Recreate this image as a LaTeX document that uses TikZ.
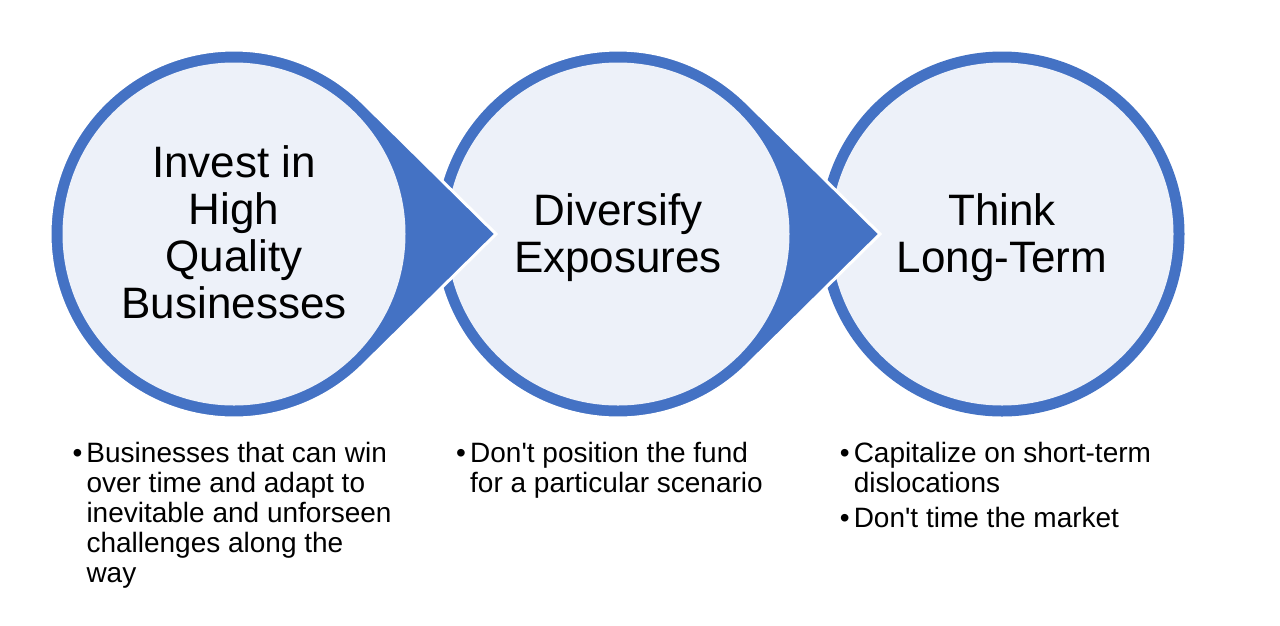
\documentclass[tikz,border=0pt]{standalone}
\usepackage{fontspec}
\setmainfont{Liberation Sans}[Ligatures=TeXOff]
\definecolor{ringblue}{HTML}{4472C4}
\definecolor{ringfill}{HTML}{EDF1F9}
\tikzset{
  teardrop/.style={fill=ringblue, draw=white, line width=3pt, line join=miter},
  ringdisc/.style={fill=ringblue},
  innerdisc/.style={fill=ringfill},
  titletext/.style={anchor=base, inner sep=0pt, font=\fontsize{44}{47}\selectfont},
  bullettext/.style={anchor=base west, inner sep=0pt, font=\fontsize{28}{30}\selectfont},
}
\newcommand{\bul}{\makebox[14pt][l]{•}}
\begin{document}
\begin{tikzpicture}[x=1pt,y=-1pt]
\useasboundingbox[fill=white] (0,0) rectangle (1280,625);
\coordinate (c1) at (234,234);
\coordinate (c2) at (618,234);
\coordinate (c3) at (1002,234);
\coordinate (p1) at (496,234);
\coordinate (p2) at (880,234);
% third circle
\fill[ringdisc] (c3) circle[radius=182.5];
\fill[innerdisc] (c3) circle[radius=171.5];
% second circle with arrow
\path[teardrop] (c2) ++(45.4:184) arc[start angle=45.4, end angle=314.6, radius=184] -- (p2) -- cycle;
\fill[innerdisc] (c2) circle[radius=171.5];
% first circle with arrow
\path[teardrop] (c1) ++(45.4:184) arc[start angle=45.4, end angle=314.6, radius=184] -- (p1) -- cycle;
\fill[innerdisc] (c1) circle[radius=171.5];
% titles
\node[titletext] (t1) at (234,177) {\begin{tabular}[t]{@{}c@{}}Invest in\\High\\Quality\\Businesses\end{tabular}};
\node[titletext] (t2) at (618,225) {\begin{tabular}[t]{@{}c@{}}Diversify\\Exposures\end{tabular}};
\node[titletext] (t3) at (1002,225) {\begin{tabular}[t]{@{}c@{}}Think\\Long-Term\end{tabular}};
% bullets
\node[bullettext] (b1) at (72.3,462) {\begin{tabular}[t]{@{}l@{}l@{}}\bul & Businesses that can win\\ & over time and adapt to\\ & inevitable and unforseen\\ & challenges along the\\ & way\end{tabular}};
\node[bullettext] (b2) at (456,462) {\begin{tabular}[t]{@{}l@{}l@{}}\bul & Don't position the fund\\ & for a particular scenario\end{tabular}};
\node[bullettext] (b3) at (839.6,462) {\begin{tabular}[t]{@{}l@{}l@{}}\bul & Capitalize on short-term\\ & dislocations\\[5pt] \bul & Don't time the market\end{tabular}};
\end{tikzpicture}
\end{document}
